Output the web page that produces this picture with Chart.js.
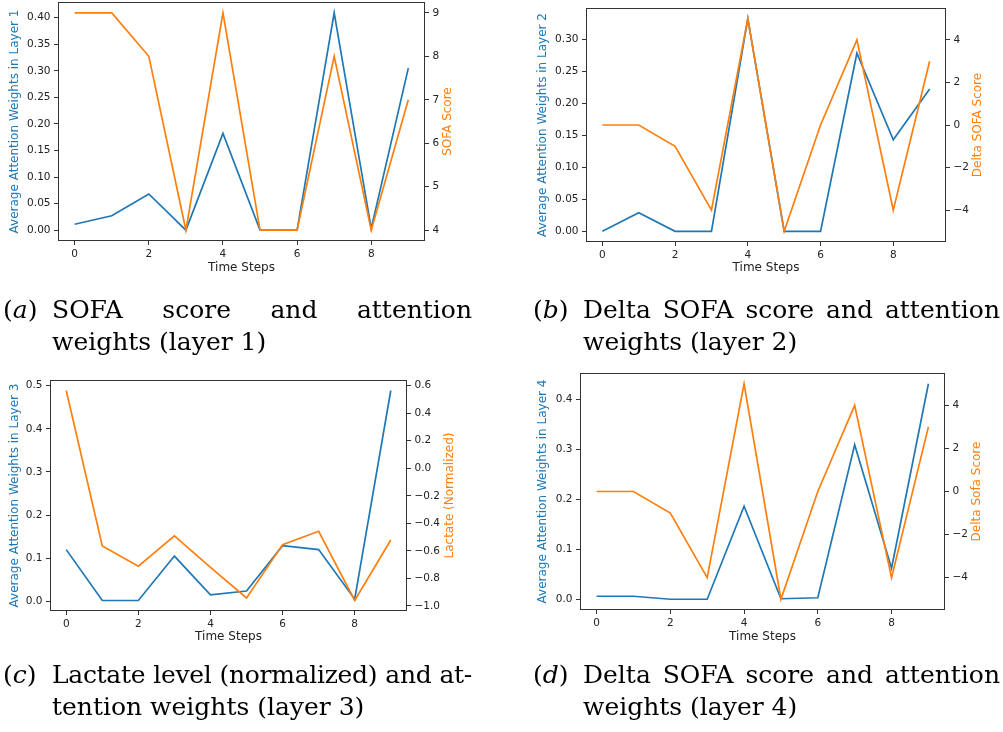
<!DOCTYPE html>
<html><head><meta charset="utf-8">
<script src="https://cdn.jsdelivr.net/npm/chart.js@4"></script>
<style>
body{margin:0;background:#fff;width:1003px;height:732px;position:relative;overflow:hidden}
canvas{position:absolute;left:0;top:0}
.cap{position:absolute;font-family:"DejaVu Serif";font-size:25px;line-height:32px;color:#000}
.cap .lbl{position:absolute;left:0;top:0;white-space:nowrap}
.cap .body{position:absolute;top:0}
.line{white-space:nowrap;text-align:justify;text-align-last:justify}
.line.last{text-align-last:left}
.tight{letter-spacing:-0.3px}
</style></head>
<body>
<canvas id="cA" width="1003" height="732"></canvas>
<canvas id="cB" width="1003" height="732"></canvas>
<canvas id="cC" width="1003" height="732"></canvas>
<canvas id="cD" width="1003" height="732"></canvas>

<div class="cap" style="left:3px;top:294px">
  <span class="lbl">(<i>a</i>)</span>
  <div class="body" style="left:49px;width:420px">
    <div class="line">SOFA score and attention</div>
    <div class="line last">weights (layer 1)</div>
  </div>
</div>
<div class="cap" style="left:533px;top:294px">
  <span class="lbl">(<i>b</i>)</span>
  <div class="body" style="left:50px;width:417px">
    <div class="line">Delta SOFA score and attention</div>
    <div class="line last">weights (layer 2)</div>
  </div>
</div>
<div class="cap" style="left:3px;top:659px">
  <span class="lbl">(<i>c</i>)</span>
  <div class="body" style="left:49px;width:420px">
    <div class="line tight">Lactate level (normalized) and at-</div>
    <div class="line last">tention weights (layer 3)</div>
  </div>
</div>
<div class="cap" style="left:533px;top:659px">
  <span class="lbl">(<i>d</i>)</span>
  <div class="body" style="left:50px;width:417px">
    <div class="line">Delta SOFA score and attention</div>
    <div class="line last">weights (layer 4)</div>
  </div>
</div>

<script>
// ---- data ----
const timeSteps = [0,1,2,3,4,5,6,7,8,9];
const xTickValues = [0,2,4,6,8];

const attnLayer1 = [0.011,0.027,0.068,0.000,0.182,0.000,0.000,0.409,0.003,0.305];
const sofaScore  = [9,9,8,4,9,4,4,8,4,7];

const attnLayer2 = [0.000,0.029,0.000,0.000,0.332,0.000,0.000,0.278,0.143,0.222];
const deltaSofaL2 = [0,0,-1,-4,5,-5,0,4,-4,3];

const attnLayer3 = [0.120,0.002,0.002,0.105,0.015,0.024,0.129,0.120,0.005,0.489];
const lactateNorm = [0.565,-0.564,-0.712,-0.492,-0.720,-0.942,-0.555,-0.458,-0.961,-0.521];

const attnLayer4 = [0.006,0.006,0.000,0.000,0.186,0.001,0.003,0.309,0.062,0.431];
const deltaSofaL4 = [0,0,-1,-4,5,-5,0,4,-4,3];

const ticksA_left  = [0,0.05,0.10,0.15,0.20,0.25,0.30,0.35,0.40];
const ticksA_right = [4,5,6,7,8,9];
const ticksB_left  = [0,0.05,0.10,0.15,0.20,0.25,0.30];
const ticksB_right = [-4,-2,0,2,4];
const ticksC_left  = [0,0.1,0.2,0.3,0.4,0.5];
const ticksC_right = [-1.0,-0.8,-0.6,-0.4,-0.2,0.0,0.2,0.4,0.6];
const ticksD_left  = [0,0.1,0.2,0.3,0.4];
const ticksD_right = [-4,-2,0,2,4];

// ---- styling ----
const BLUE = '#1f77b4', ORANGE = '#ff7f0e';
const TICK_FONT = {family:'DejaVu Sans', size:10.5};
const TITLE_FONT = {family:'DejaVu Sans', size:12};
const HALF = 12*1.2/2;

function fmt(v, dec){ const s = Math.abs(v).toFixed(dec); return (v < -1e-9 ? '\u2212' : '') + s; }
function lim(arr){ const mn=Math.min(...arr), mx=Math.max(...arr), s=mx-mn; return [mn-0.05*s, mx+0.05*s]; }

const framePlugin = {
  id:'frame',
  afterDraw(chart){
    const {ctx, chartArea:a} = chart;
    ctx.save();
    ctx.strokeStyle = '#333'; ctx.lineWidth = 1;
    ctx.strokeRect(Math.round(a.left)+0.5, Math.round(a.top)+0.5, Math.round(a.right-a.left)-1, Math.round(a.bottom-a.top)-1);
    const t = chart.options.plugins.rightTitle;
    const ys = chart.scales.y1;
    ctx.fillStyle = ORANGE;
    ctx.font = TITLE_FONT.size + 'px "DejaVu Sans"';
    ctx.textAlign = 'center'; ctx.textBaseline = 'middle';
    ctx.translate(ys.right - HALF, (a.top + a.bottom)/2);
    ctx.rotate(-Math.PI/2);
    ctx.fillText(t, 0, 0);
    ctx.restore();
  }
};

function panel(id, g, blue, orange, lt, ldec, rt, rdec, leftLabel, rightLabel){
  const pts = arr => timeSteps.map((t,i)=>({x:t, y:arr[i]}));
  const [lmin,lmax] = lim(blue), [rmin,rmax] = lim(orange);
  const W = 1003, H = 732;
  const padL = g.xl - HALF, padR = W - (g.xr + HALF), padB = H - (g.yx + HALF);
  const zero = s => { s.paddingLeft = 0; s.paddingRight = 0; s.paddingTop = 0; s.paddingBottom = 0; };
  const tickGrid = {drawOnChartArea:false, drawTicks:true, tickLength:4, color:'#333', lineWidth:1};
  new Chart(document.getElementById(id), {
    type:'line',
    data:{datasets:[
      {data:pts(orange), yAxisID:'y1', borderColor:ORANGE, borderWidth:1.7, pointRadius:0, order:0, tension:0},
      {data:pts(blue), yAxisID:'y', borderColor:BLUE, borderWidth:1.7, pointRadius:0, order:1, tension:0}
    ]},
    options:{
      responsive:false, animation:false, events:[],
      layout:{padding:{left:padL, right:padR, top:g.T, bottom:padB}},
      plugins:{legend:{display:false}, tooltip:{enabled:false}, rightTitle:rightLabel},
      scales:{
        x:{type:'linear', min:-0.45, max:9.45, bounds:'data',
           afterBuildTicks:s=>{ s.ticks = xTickValues.map(v=>({value:v})); },
           afterFit:s=>{ s.height = (g.yx + HALF) - g.B; zero(s); },
           grid:tickGrid, border:{display:false},
           ticks:{font:TICK_FONT, color:'#222', padding:3, maxRotation:0, autoSkip:false, callback:v=>String(v)},
           title:{display:true, text:'Time Steps', font:TITLE_FONT, color:'#222', padding:0}},
        y:{type:'linear', position:'left', min:lmin, max:lmax, bounds:'data',
           afterBuildTicks:s=>{ s.ticks = lt.map(v=>({value:v})); },
           afterFit:s=>{ s.width = g.L - padL; zero(s); },
           grid:tickGrid, border:{display:false},
           ticks:{font:TICK_FONT, color:'#222', padding:3.5, autoSkip:false, callback:v=>fmt(v, ldec)},
           title:{display:true, text:leftLabel, font:TITLE_FONT, color:BLUE, padding:0}},
        y1:{type:'linear', position:'right', min:rmin, max:rmax, bounds:'data',
           afterBuildTicks:s=>{ s.ticks = rt.map(v=>({value:v})); },
           afterFit:s=>{ s.width = (g.xr + HALF) - g.R; zero(s); },
           grid:tickGrid, border:{display:false},
           ticks:{font:TICK_FONT, color:'#222', padding:3.5, autoSkip:false, callback:v=>fmt(v, rdec)},
           title:{display:false}}
      }
    },
    plugins:[framePlugin]
  });
}

panel('cA', {L:58,R:425,T:2,B:241,xl:15,xr:448,yx:268}, attnLayer1, sofaScore, ticksA_left, 2, ticksA_right, 0,
      'Average Attention Weights in Layer 1', 'SOFA Score');
panel('cB', {L:586,R:946,T:8,B:242,xl:543,xr:978,yx:268}, attnLayer2, deltaSofaL2, ticksB_left, 2, ticksB_right, 0,
      'Average Attention Weights in Layer 2', 'Delta SOFA Score');
panel('cC', {L:50,R:407,T:380,B:611,xl:15,xr:450,yx:637}, attnLayer3, lactateNorm, ticksC_left, 1, ticksC_right, 1,
      'Average Attention Weights in Layer 3', 'Lactate (Normalized)');
panel('cD', {L:580,R:945,T:373,B:610,xl:543,xr:977,yx:637}, attnLayer4, deltaSofaL4, ticksD_left, 1, ticksD_right, 0,
      'Average Attention Weights in Layer 4', 'Delta Sofa Score');
</script>
</body></html>
